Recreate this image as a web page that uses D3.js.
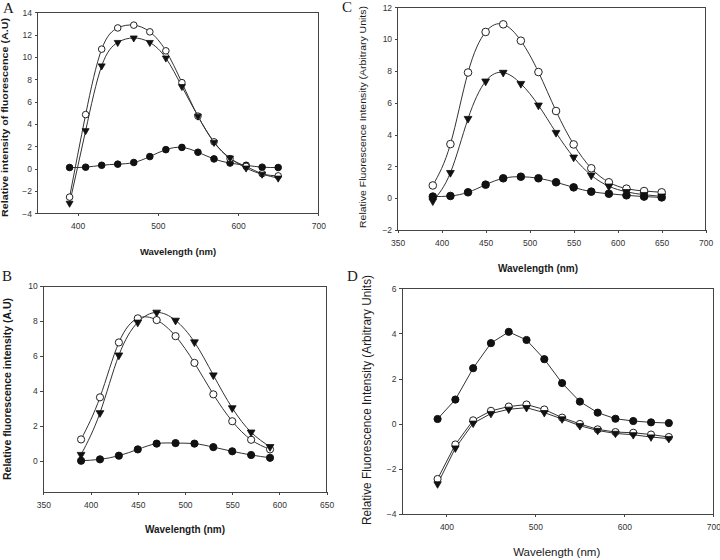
<!DOCTYPE html>
<meta charset="utf-8">
<style>
body { margin: 0; background: #fff; }
svg text { font-family: "Liberation Sans", Arial, sans-serif; fill: #1a1a1a; }
.tick text { font-size: 8.5px; fill: #333; }
.axis path { display: none; }
.axis line { stroke: #444; shape-rendering: crispEdges; }
.frame { fill: none; stroke: #444; stroke-width: 1; shape-rendering: crispEdges; }
.plabel { font-family: "Liberation Serif", "Times New Roman", serif !important; font-size: 15px; }
.line { fill: none; stroke: #333; stroke-width: 1; }
</style>
<body>
<script src="https://cdn.jsdelivr.net/npm/d3@7/dist/d3.min.js"></script>
<script>
// wavelengths (nm)
var wlLong = [390, 410, 430, 450, 470, 490, 510, 530, 550, 570, 590, 610, 630, 650];
var wlShort = [390, 410, 430, 450, 470, 490, 510, 530, 550, 570, 590];

// panel A
var aOpen = [-2.55, 4.84, 10.7, 12.6, 12.85, 12.25, 10.55, 7.7, 4.7, 2.4, 0.9, 0.2, -0.45, -0.65];
var aTri = [-3.1, 3.4, 9.2, 11.3, 11.7, 11.3, 9.9, 7.35, 4.7, 2.35, 0.95, 0.05, -0.5, -0.85];
var aFilled = [0.1, 0.13, 0.3, 0.4, 0.55, 1.08, 1.7, 1.9, 1.47, 0.87, 0.5, 0.3, 0.13, 0.1];

// panel B
var bOpen = [1.22, 3.63, 6.77, 8.15, 8.05, 7.13, 5.6, 3.8, 2.26, 1.2, 0.65];
var bTri = [0.35, 2.74, 6.04, 7.92, 8.49, 8.03, 6.79, 4.9, 3.02, 1.63, 0.8];
var bFilled = [0.0, 0.08, 0.29, 0.65, 0.98, 1.01, 0.98, 0.78, 0.54, 0.33, 0.17];

// panel C
var cOpen = [0.8, 3.4, 7.9, 10.45, 10.93, 9.9, 7.93, 5.48, 3.38, 1.88, 1.0, 0.6, 0.45, 0.37];
var cTri = [-0.18, 1.6, 5.0, 7.35, 7.9, 7.2, 5.84, 4.12, 2.57, 1.44, 0.75, 0.4, 0.22, 0.12];
var cFilled = [0.1, 0.14, 0.37, 0.85, 1.25, 1.35, 1.25, 1.0, 0.68, 0.41, 0.28, 0.18, 0.1, 0.05];

// panel D
var dFilled = [0.21, 1.07, 2.46, 3.57, 4.07, 3.71, 2.86, 1.8, 0.98, 0.49, 0.22, 0.12, 0.06, 0.03];
var dOpen = [-2.45, -0.92, 0.15, 0.57, 0.76, 0.85, 0.63, 0.27, -0.01, -0.25, -0.37, -0.4, -0.48, -0.59];
var dTri = [-2.67, -1.08, 0.02, 0.45, 0.64, 0.71, 0.49, 0.21, -0.09, -0.3, -0.43, -0.49, -0.59, -0.66];

// tick values
var xTicksA = [400, 500, 600, 700];
var xTicksB = [350, 400, 450, 500, 550, 600, 650];
var xTicksC = [350, 400, 450, 500, 550, 600, 650, 700];
var xTicksD = [400, 500, 600, 700];
var yTicksA = [-4, -2, 0, 2, 4, 6, 8, 10, 12, 14];
var yTicksB = [0, 2, 4, 6, 8, 10];
var yTicksC = [-2, 0, 2, 4, 6, 8, 10, 12];
var yTicksD = [-4, -2, 0, 2, 4, 6];

var xTitle = "Wavelength (nm)";

// layout for the four panels
var panels = [
    { label: "A", lx: 3, ly: 13, wl: wlLong, filled: aFilled, open: aOpen, tri: aTri,
      xDom: [350, 700], xRange: [37.5, 318.3], yDom: [-4, 14], yRange: [213.3, 12.3],
      xTicks: xTicksA, yTicks: yTicksA, curve: d3.curveNatural, r: 3.3, tri2: 21,
      xt: { x: 178, y: 255, size: 9.5, bold: true },
      yt: { text: "Relative intensity of fluorescence (A.U)", x: 8.3, y: 117.5, len: 199, size: 9, bold: true } },
    { label: "B", lx: 2, ly: 281, wl: wlShort, filled: bFilled, open: bOpen, tri: bTri,
      xDom: [350, 650], xRange: [43.3, 326.7], yDom: [-1.8, 10], yRange: [492.2, 286],
      xTicks: xTicksB, yTicks: yTicksB, curve: d3.curveNatural, r: 3.6, tri2: 26,
      xt: { x: 185, y: 532.5, size: 10, bold: true },
      yt: { text: "Relative fluorescence intensity (A.U)", x: 10.5, y: 389, len: 182, size: 10, bold: true } },
    { label: "C", lx: 342, ly: 12, wl: wlLong, filled: cFilled, open: cOpen, tri: cTri,
      xDom: [350, 700], xRange: [397.6, 705.7], yDom: [-2, 12], yRange: [230, 7.3],
      xTicks: xTicksC, yTicks: yTicksC, curve: d3.curveNatural, r: 3.8, tri2: 26,
      xt: { x: 538, y: 272, size: 10, bold: true },
      yt: { text: "Relative Fluorescence Intensity (Arbitrary Units)", x: 366, y: 117, len: 222, size: 9.5, bold: false } },
    { label: "D", lx: 347, ly: 281, wl: wlLong, filled: dFilled, open: dOpen, tri: dTri,
      xDom: [350, 700], xRange: [402, 713.3], yDom: [-4, 6], yRange: [514, 288.3],
      xTicks: xTicksD, yTicks: yTicksD, curve: d3.curveLinear, r: 3.6, tri2: 24,
      xt: { x: 556.7, y: 556, size: 11.5, bold: false },
      yt: { text: "Relative Fluorescence Intensity (Arbitrary Units)", x: 370.7, y: 400, len: 250, size: 12.5, bold: false } }
];

var svg = d3.select("body").append("svg")
    .attr("width", 720)
    .attr("height", 560);

panels.forEach(function(p) {
    var x = d3.scaleLinear().domain(p.xDom).range(p.xRange);
    var y = d3.scaleLinear().domain(p.yDom).range(p.yRange);
    var g = svg.append("g");

    // axes
    g.append("g")
        .attr("class", "axis")
        .attr("transform", "translate(0," + p.yRange[0] + ")")
        .call(d3.axisBottom(x).tickValues(p.xTicks).tickSize(3).tickSizeOuter(0).tickPadding(7));
    g.append("g")
        .attr("class", "axis")
        .attr("transform", "translate(" + p.xRange[0] + ",0)")
        .call(d3.axisLeft(y).tickValues(p.yTicks).tickSize(3).tickSizeOuter(0).tickPadding(2.5));

    // plot frame
    g.append("rect")
        .attr("class", "frame")
        .attr("x", p.xRange[0])
        .attr("y", p.yRange[1])
        .attr("width", p.xRange[1] - p.xRange[0])
        .attr("height", p.yRange[0] - p.yRange[1]);

    var line = d3.line()
        .x(function(d, i) { return x(p.wl[i]); })
        .y(function(d) { return y(d); })
        .curve(p.curve);

    [p.filled, p.open, p.tri].forEach(function(s) {
        g.append("path").attr("class", "line").attr("d", line(s));
    });

    // markers
    g.selectAll(".filled").data(p.filled).enter().append("circle")
        .attr("cx", function(d, i) { return x(p.wl[i]); })
        .attr("cy", function(d) { return y(d); })
        .attr("r", p.r)
        .attr("fill", "#111")
        .attr("stroke", "#111");
    g.selectAll(".open").data(p.open).enter().append("circle")
        .attr("cx", function(d, i) { return x(p.wl[i]); })
        .attr("cy", function(d) { return y(d); })
        .attr("r", p.r)
        .attr("fill", "#fff")
        .attr("stroke", "#222")
        .attr("stroke-width", 1);
    var tri = d3.symbol().type(d3.symbolTriangle).size(p.tri2);
    g.selectAll(".tri").data(p.tri).enter().append("path")
        .attr("d", tri)
        .attr("transform", function(d, i) { return "translate(" + x(p.wl[i]) + "," + y(d) + ") rotate(180)"; })
        .attr("fill", "#111")
        .attr("stroke", "#111")
        .attr("stroke-width", 0.8);

    // titles
    g.append("text")
        .attr("x", p.xt.x)
        .attr("y", p.xt.y)
        .attr("text-anchor", "middle")
        .style("font-size", p.xt.size + "px")
        .style("font-weight", p.xt.bold ? "bold" : "normal")
        .text(xTitle);
    g.append("text")
        .attr("transform", "translate(" + p.yt.x + "," + p.yt.y + ") rotate(-90)")
        .attr("text-anchor", "middle")
        .attr("textLength", p.yt.len)
        .attr("lengthAdjust", "spacingAndGlyphs")
        .style("font-size", p.yt.size + "px")
        .style("font-weight", p.yt.bold ? "bold" : "normal")
        .text(p.yt.text);
    g.append("text")
        .attr("class", "plabel")
        .attr("x", p.lx)
        .attr("y", p.ly)
        .text(p.label);
});
</script>
</body>
